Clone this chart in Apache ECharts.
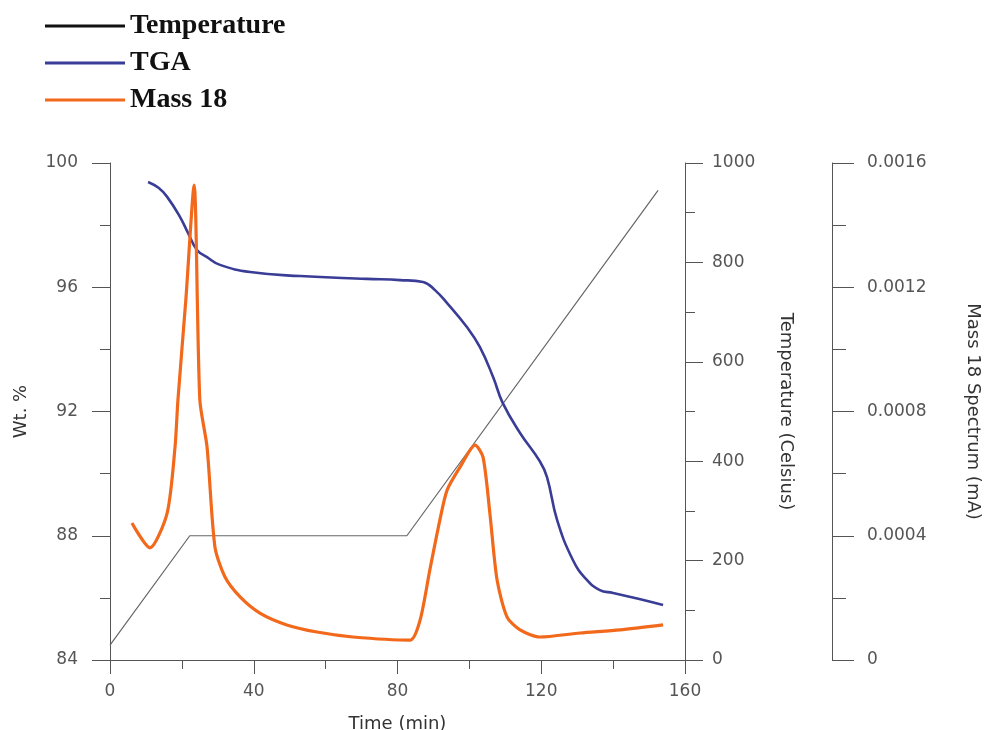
<!DOCTYPE html>
<html>
<head>
<meta charset="utf-8">
<title>TGA / Mass 18</title>
<script src="https://cdn.jsdelivr.net/npm/echarts@6/dist/echarts.min.js"></script>
<style>
  html, body { margin: 0; padding: 0; background: #fff; }
  #chart { width: 985px; height: 730px; }
</style>
</head>
<body>
<div id="chart"></div>
<script>
// temperature program (Celsius)
var tempTime = [0, 22.2, 82.6, 152.5];
var tempVal = [30, 250, 250, 945];

// TGA weight loss (wt %)
var tgaTime = [10.6, 13.5, 15.9, 19.5, 21.7, 24.2, 27.0, 30.6, 39, 52.9, 71.5, 80.7, 87.1, 90.5, 93.8, 99.3, 102.9, 106.6, 109.3, 114.1, 119.6, 121.6, 124.4, 128.8, 132.5, 136.3, 140, 147, 153.9];
var tgaWt = [99.39, 99.2, 98.91, 98.26, 97.75, 97.2, 96.97, 96.72, 96.49, 96.36, 96.27, 96.23, 96.17, 95.9, 95.49, 94.72, 94.08, 93.11, 92.27, 91.31, 90.4, 89.89, 88.51, 87.22, 86.6, 86.25, 86.16, 85.97, 85.77];

// mass 18 signal (mA)
var massTime = [6.1, 11.1, 15.9, 18.1, 18.9, 21.1, 23.4, 25.0, 27.0, 29.2, 32.0, 36.2, 41.7, 49.2, 57.6, 67.6, 83.5, 86.3, 89.0, 91.8, 93.8, 97.4, 101.6, 103.8, 105.7, 107.7, 110.5, 114.1, 119.6, 130.8, 141.9, 153.9];
var massVal = [0.000441, 0.000361, 0.000473, 0.000686, 0.000837, 0.001159, 0.001529, 0.000837, 0.000686, 0.000364, 0.000267, 0.000203, 0.000151, 0.000113, 0.00009, 0.000074, 0.000064, 0.000129, 0.00029, 0.000451, 0.000547, 0.000621, 0.000692, 0.000653, 0.000473, 0.000258, 0.000138, 0.000097, 0.000074, 0.000087, 0.000097, 0.000113];

function pairs(xs, ys) {
    return xs.map(function (x, i) { return [x, ys[i]]; });
}

var chart = echarts.init(document.getElementById('chart'));

var axisColor = '#555';
var labelStyle = { color: '#555', fontFamily: 'DejaVu Sans', fontSize: 17 };
var nameStyle = { color: '#333', fontFamily: 'DejaVu Sans', fontSize: 18 };

var option = {
    backgroundColor: '#fff',
    animation: false,
    legend: {
        orient: 'vertical',
        left: 40,
        top: 7,
        itemWidth: 80,
        itemHeight: 3,
        itemGap: 9,
        icon: 'rect',
        textStyle: {
            fontFamily: 'Liberation Serif',
            fontWeight: 'bold',
            fontSize: 28,
            lineHeight: 27,
            color: '#111'
        },
        data: ['Temperature', 'TGA', 'Mass 18']
    },
    grid: { left: 110, right: 300, top: 163, bottom: 70, outerBoundsMode: 'none' },
    xAxis: {
        type: 'value',
        min: 0, max: 160, interval: 40,
        name: 'Time (min)',
        nameLocation: 'middle',
        nameGap: 55,
        nameTextStyle: nameStyle,
        axisLine: { lineStyle: { color: axisColor, width: 1 } },
        axisTick: { inside: false, length: 14, lineStyle: { color: axisColor } },
        minorTick: { show: true, splitNumber: 2, length: 9, lineStyle: { color: axisColor } },
        axisLabel: Object.assign({ margin: 23 }, labelStyle),
        splitLine: { show: false }
    },
    yAxis: [
        {
            type: 'value',
            position: 'left',
            min: 84, max: 100, interval: 4,
            name: 'Wt. %',
            nameLocation: 'middle',
            nameGap: 80,
            nameTextStyle: nameStyle,
            axisLine: { show: true, lineStyle: { color: axisColor } },
            axisTick: { show: true, length: 18, lineStyle: { color: axisColor } },
            minorTick: { show: true, splitNumber: 2, length: 10, lineStyle: { color: axisColor } },
            axisLabel: Object.assign({ margin: 32 }, labelStyle),
            splitLine: { show: false }
        },
        {
            type: 'value',
            position: 'right',
            min: 0, max: 1000, interval: 200,
            name: 'Temperature (Celsius)',
            nameLocation: 'middle',
            nameGap: 92,
            nameRotate: -90,
            nameTextStyle: nameStyle,
            axisLine: { show: true, lineStyle: { color: axisColor } },
            axisTick: { show: true, length: 18, lineStyle: { color: axisColor } },
            minorTick: { show: true, splitNumber: 2, length: 10, lineStyle: { color: axisColor } },
            axisLabel: Object.assign({
                margin: 27,
                formatter: function (v) { return String(v); }
            }, labelStyle),
            splitLine: { show: false }
        },
        {
            type: 'value',
            position: 'right',
            offset: 147,
            min: 0, max: 0.0016, interval: 0.0004,
            name: 'Mass 18 Spectrum (mA)',
            nameLocation: 'middle',
            nameGap: 132,
            nameRotate: -90,
            nameTextStyle: nameStyle,
            axisLine: { show: true, lineStyle: { color: axisColor } },
            axisTick: { show: true, length: 22, lineStyle: { color: axisColor } },
            minorTick: { show: true, splitNumber: 2, length: 14, lineStyle: { color: axisColor } },
            axisLabel: Object.assign({
                margin: 35,
                formatter: function (v) { return v === 0 ? '0' : v.toFixed(4); }
            }, labelStyle),
            splitLine: { show: false }
        }
    ],
    series: [
        {
            name: 'Temperature',
            type: 'line',
            yAxisIndex: 1,
            showSymbol: false,
            color: '#111',
            lineStyle: { color: '#666', width: 1.2 },
            data: pairs(tempTime, tempVal)
        },
        {
            name: 'TGA',
            type: 'line',
            yAxisIndex: 0,
            showSymbol: false,
            smooth: 0.45,
            color: '#3a3d96',
            lineStyle: { width: 2.6 },
            data: pairs(tgaTime, tgaWt)
        },
        {
            name: 'Mass 18',
            type: 'line',
            yAxisIndex: 2,
            showSymbol: false,
            smooth: 0.25,
            color: '#f2691c',
            lineStyle: { width: 3.2 },
            data: pairs(massTime, massVal)
        }
    ]
};

chart.setOption(option);
</script>
</body>
</html>
